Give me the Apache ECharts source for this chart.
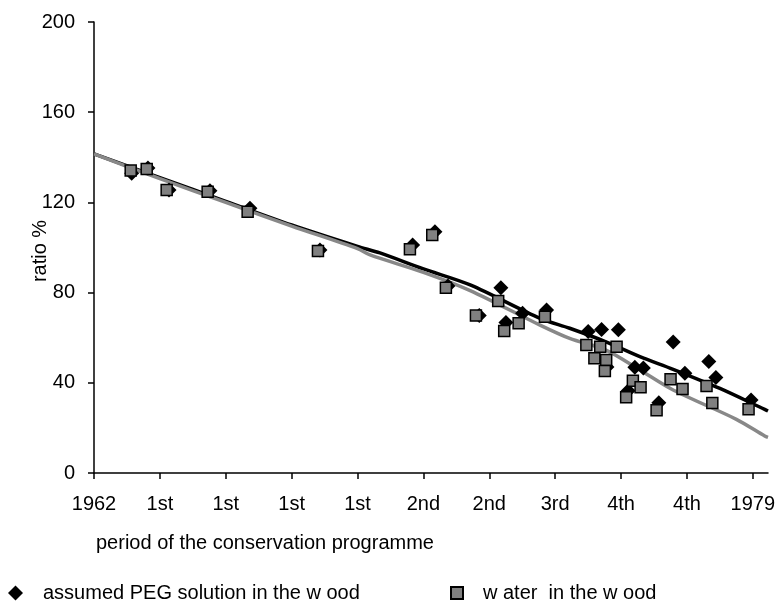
<!DOCTYPE html>
<html>
<head>
<meta charset="utf-8">
<script src="https://cdn.jsdelivr.net/npm/echarts@6/dist/echarts.min.js"></script>
<style>
html,body{margin:0;padding:0;background:#fff;}
#chart{width:784px;height:610px;}
</style>
</head>
<body>
<div id="chart"></div>
<script>
// x positions are in tick units (0 = 1962 tick, 10 = 1979 tick)
const xTickLabels = ['1962','1st','1st','1st','1st','2nd','2nd','3rd','4th','4th','1979'];
const yTicks = [0, 40, 80, 120, 160, 200];

const pegName = 'assumed PEG solution in the w ood';
const waterName = 'w ater  in the w ood';

const pegX = [0.572,0.819,1.138,1.760,2.367,3.429,4.836,5.175,5.372,5.847,6.176,6.252,6.505,6.869,7.501,7.704,7.959,7.785,8.209,8.338,8.108,8.791,8.968,9.332,9.439,8.573,9.973];
const pegY = [132.9,135.3,125.5,125.2,117.4,98.9,101.1,107.0,82.9,69.8,82.2,66.7,70.8,72.3,62.7,63.6,63.5,47.0,46.9,46.6,36.5,58.1,44.2,49.4,42.3,31.2,32.4];

const waterX = [0.557,0.800,1.103,1.725,2.332,3.399,4.795,5.134,5.341,5.797,6.135,6.226,6.445,6.844,7.473,7.683,7.932,7.595,7.774,7.754,8.179,8.296,8.077,8.751,8.933,9.297,9.385,8.539,9.935];
const waterY = [134.1,134.8,125.5,124.7,115.9,98.4,99.2,105.5,82.2,69.8,76.3,63.0,66.4,69.3,56.8,56.0,56.0,50.9,50.1,45.2,40.9,38.0,33.6,41.6,37.2,38.6,31.0,27.8,28.3];

const pegTrendX = [0,1,2,3,4,4.34,5,5.71,6.77,7.22,7.77,8.285,8.79,9.5,10.18,10.23];
const pegTrendY = [141.5,131,120.5,110,100.5,97.6,90.5,83.4,68.6,64.2,58.2,51.6,46,37.5,28.2,27.5];

const waterTrendX = [0,1,2,3,4,4.19,5,5.71,6.77,7.22,7.77,8.285,8.79,9.75,10.18,10.23];
const waterTrendY = [141.5,130.5,120,109.5,99.5,96.7,89,80.9,65.6,59.7,54.5,45.7,36.8,23.8,16.4,15.8];

const FONT = 'Liberation Sans, Arial, sans-serif';
const zip = (a, b) => a.map((v, i) => [v, b[i]]);

const chart = echarts.init(document.getElementById('chart'), null, {renderer: 'canvas'});
chart.setOption({
  animation: false,
  backgroundColor: '#ffffff',
  grid: {left: 94, right: 16, top: 22, bottom: 137, containLabel: false},
  title: {
    text: 'period of the conservation programme',
    left: 96, top: 533, padding: 0,
    textStyle: {fontFamily: FONT, fontSize: 20, fontWeight: 'normal', color: '#000'}
  },
  graphic: [{
    type: 'text', x: 40, y: 251, rotation: Math.PI / 2,
    style: {text: 'ratio %', font: '20px ' + FONT, fill: '#000', align: 'center', verticalAlign: 'middle'}
  }],
  legend: [{
    data: [pegName], left: 8, top: 583, padding: 0,
    itemWidth: 15, itemHeight: 15,
    textStyle: {fontFamily: FONT, fontSize: 20, color: '#000', padding: [0, 0, 0, 15]}
  }, {
    data: [waterName], left: 450, top: 583, padding: 0,
    itemWidth: 12, itemHeight: 12,
    textStyle: {fontFamily: FONT, fontSize: 20, color: '#000', padding: [0, 0, 0, 15]}
  }],
  xAxis: {
    type: 'value', min: 0, max: 10.23, interval: 1,
    axisLine: {show: true, onZero: false, lineStyle: {color: '#000', width: 1.5}},
    axisTick: {show: true, inside: false, length: 6, lineStyle: {color: '#000', width: 1.5},
      customValues: xTickLabels.map((_, i) => i)},
    axisLabel: {
      margin: 21, fontFamily: FONT, fontSize: 20, color: '#000',
      customValues: xTickLabels.map((_, i) => i),
      formatter: v => (Math.abs(v - Math.round(v)) < 1e-6 && xTickLabels[Math.round(v)] !== undefined) ? xTickLabels[Math.round(v)] : ''
    },
    splitLine: {show: false}
  },
  yAxis: {
    type: 'value', min: 0, max: 200, interval: 40,
    axisLine: {show: true, lineStyle: {color: '#000', width: 1.5}},
    axisTick: {show: true, inside: false, length: 6, lineStyle: {color: '#000', width: 1.5}},
    axisLabel: {margin: 19, fontFamily: FONT, fontSize: 20, color: '#000',
      formatter: v => yTicks.indexOf(v) >= 0 ? String(v) : ''},
    splitLine: {show: false}
  },
  series: [
    {
      name: 'PEG trend', type: 'line', data: zip(pegTrendX, pegTrendY),
      showSymbol: false, smooth: 0.3, z: 1, silent: true,
      lineStyle: {color: '#000', width: 3.5}
    },
    {
      name: 'water trend', type: 'line', data: zip(waterTrendX, waterTrendY),
      showSymbol: false, smooth: 0.3, z: 2, silent: true,
      lineStyle: {color: '#888888', width: 3.5}
    },
    {
      name: pegName, type: 'scatter', data: zip(pegX, pegY),
      symbol: 'diamond', symbolSize: 15, z: 3,
      itemStyle: {color: '#000', borderColor: '#000', borderWidth: 0, opacity: 1}
    },
    {
      name: waterName, type: 'scatter', data: zip(waterX, waterY),
      symbol: 'rect', symbolSize: 11, z: 4,
      itemStyle: {color: '#808080', borderColor: '#000', borderWidth: 1.5, opacity: 1}
    }
  ]
});
</script>
</body>
</html>
